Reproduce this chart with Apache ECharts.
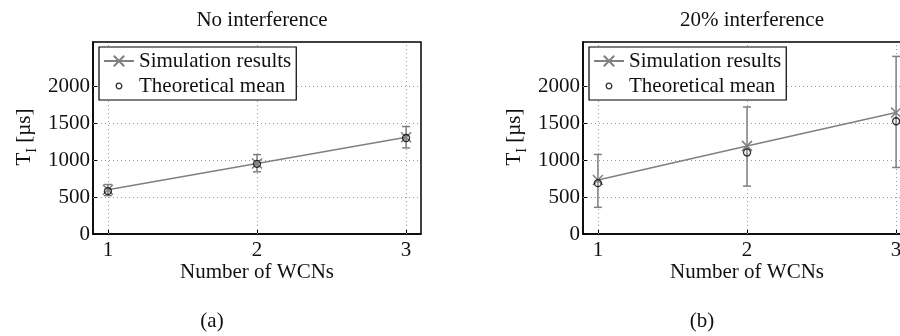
<!DOCTYPE html>
<html>
<head>
<meta charset="utf-8">
<script src="https://cdn.jsdelivr.net/npm/echarts@6/dist/echarts.min.js"></script>
<style>
  html, body { margin: 0; padding: 0; background: #fff; }
  #main { width: 900px; height: 336px; }
</style>
</head>
<body>
<div id="main"></div>
<script>
// data
const wcns = [1, 2, 3];
const yTicks = [0, 500, 1000, 1500, 2000];

const simA = [600, 955, 1310];
const lowA = [520, 842, 1166];
const highA = [670, 1075, 1455];
const theoryA = [580, 950, 1300];

const simB = [730, 1193, 1644];
const lowB = [361, 649, 901];
const highB = [1077, 1720, 2405];
const theoryB = [689, 1104, 1527];

const FONT = "Liberation Serif";
const FS = 21;
const GRAY = "#808080";
const CROSS = "path://M0,0L10,10M10,0L0,10";
const SMALL_CIRCLE = "path://M0,0M30,0M30,14M0,14M12,7a3,3 0 1,0 6,0a3,3 0 1,0 -6,0";

let dom = document.getElementById("main");
let myChart = echarts.init(dom, null, { renderer: "canvas" });

function pairs(xs, ys) {
    return xs.map((x, i) => [x, ys[i]]);
}

function errBar(params, api) {
    let x = api.value(0);
    let p1 = api.coord([x, api.value(1)]);
    let p2 = api.coord([x, api.value(2)]);
    let w = 4;
    let style = { stroke: GRAY, lineWidth: 1.5 };
    return {
        type: "group",
        children: [
            { type: "line", shape: { x1: p1[0], y1: p1[1], x2: p2[0], y2: p2[1] }, style: style },
            { type: "line", shape: { x1: p1[0] - w, y1: p1[1], x2: p1[0] + w, y2: p1[1] }, style: style },
            { type: "line", shape: { x1: p2[0] - w, y1: p2[1], x2: p2[0] + w, y2: p2[1] }, style: style },
        ],
    };
}

function xAxisFor(idx) {
    return {
        type: "value",
        gridIndex: idx,
        min: 0.9,
        max: 3.1,
        name: "Number of WCNs",
        nameLocation: "middle",
        nameGap: 28,
        nameMoveOverlap: false,
        nameTextStyle: { fontFamily: FONT, fontSize: FS, color: "#111" },
        axisLine: { show: true, onZero: false, lineStyle: { color: "#000", width: 1.5 } },
        axisTick: { show: true, inside: true, length: 4, customValues: wcns, lineStyle: { color: "#000" } },
        axisLabel: { customValues: wcns, margin: 6, fontFamily: FONT, fontSize: FS, color: "#111" },
        splitLine: { show: false },
    };
}

function yAxisFor(idx) {
    return {
        type: "value",
        gridIndex: idx,
        min: 0,
        max: 2600,
        axisLine: { show: true, lineStyle: { color: "#000", width: 1.5 } },
        axisTick: { show: true, inside: true, length: 4, customValues: yTicks, lineStyle: { color: "#000" } },
        axisLabel: {
            customValues: yTicks,
            margin: 3,
            fontFamily: FONT,
            fontSize: FS,
            color: "#111",
            formatter: (v) => String(v),
        },
        splitLine: { show: false },
    };
}

function gridLines() {
    return {
        silent: true,
        symbol: "none",
        z: 1,
        label: { show: false },
        lineStyle: { color: "#9a9a9a", type: [1, 3], width: 1 },
        data: yTicks.slice(1).map((v) => ({ yAxis: v }))
            .concat(wcns.map((v) => ({ xAxis: v }))),
    };
}

function seriesFor(idx, sim, low, high, theory) {
    return [
        {
            name: "err" + idx,
            type: "custom",
            xAxisIndex: idx,
            yAxisIndex: idx,
            renderItem: errBar,
            data: wcns.map((x, i) => [x, low[i], high[i]]),
            z: 2,
            markLine: gridLines(),
        },
        {
            name: "Simulation results",
            type: "line",
            xAxisIndex: idx,
            yAxisIndex: idx,
            data: pairs(wcns, sim),
            symbol: CROSS,
            symbolSize: 10,
            lineStyle: { color: GRAY, width: 1.5 },
            itemStyle: { color: GRAY, borderColor: GRAY, borderWidth: 1.5 },
            z: 3,
        },
        {
            name: "Theoretical mean",
            type: "scatter",
            xAxisIndex: idx,
            yAxisIndex: idx,
            data: pairs(wcns, theory),
            symbol: "circle",
            symbolSize: 7,
            itemStyle: { color: "rgba(0,0,0,0)", borderColor: "#000", borderWidth: 1.3 },
            z: 4,
        },
    ];
}

function legendFor(left) {
    return {
        left: left,
        top: 47,
        orient: "vertical",
        backgroundColor: "#fff",
        borderColor: "#000",
        borderWidth: 1.2,
        borderRadius: 0,
        padding: [3, 5, 3, 4],
        itemGap: 3,
        itemWidth: 30,
        itemHeight: 13,
        selectedMode: false,
        textStyle: { fontFamily: FONT, fontSize: FS, color: "#111", lineHeight: 22 },
        data: [
            { name: "Simulation results" },
            { name: "Theoretical mean", icon: SMALL_CIRCLE, itemStyle: { color: "rgba(0,0,0,0)", borderColor: "#000", borderWidth: 1.3 } },
        ],
        z: 10,
    };
}

function yName(x, y) {
    return {
        type: "text",
        x: x,
        y: y,
        rotation: Math.PI / 2,
        style: {
            text: "{a|T}{b|I}{a| [µs]}",
            align: "center",
            verticalAlign: "middle",
            rich: {
                a: { fontFamily: FONT, fontSize: FS, fill: "#111", lineHeight: 30, verticalAlign: "middle" },
                b: { fontFamily: FONT, fontSize: 14, fill: "#111", lineHeight: 30, verticalAlign: "bottom" },
            },
        },
    };
}

let option = {
    animation: false,
    backgroundColor: "#fff",
    title: [
        { text: "No interference", left: 257, top: 5, textAlign: "center", textStyle: { fontFamily: FONT, fontSize: FS, fontWeight: "normal", color: "#111" } },
        { text: "20% interference", left: 747, top: 5, textAlign: "center", textStyle: { fontFamily: FONT, fontSize: FS, fontWeight: "normal", color: "#111" } },
    ],
    grid: [
        { left: 93, top: 42, width: 328, height: 192, outerBoundsMode: "none", show: true, borderColor: "#000", borderWidth: 1.5, backgroundColor: "transparent" },
        { left: 583, top: 42, width: 328, height: 192, outerBoundsMode: "none", show: true, borderColor: "#000", borderWidth: 1.5, backgroundColor: "transparent" },
    ],
    legend: [legendFor(99), legendFor(589)],
    xAxis: [xAxisFor(0), xAxisFor(1)],
    yAxis: [yAxisFor(0), yAxisFor(1)],
    series: seriesFor(0, simA, lowA, highA, theoryA).concat(seriesFor(1, simB, lowB, highB, theoryB)),
    graphic: [
        yName(24, 137),
        yName(514, 137),
        { type: "text", x: 212, y: 321, style: { text: "(a)", align: "center", verticalAlign: "middle", fontFamily: FONT, fontSize: FS, fill: "#111" } },
        { type: "text", x: 702, y: 321, style: { text: "(b)", align: "center", verticalAlign: "middle", fontFamily: FONT, fontSize: FS, fill: "#111" } },
    ],
};

if (option && typeof option === "object") {
    myChart.setOption(option);
}

window.addEventListener("resize", myChart.resize);
</script>
</body>
</html>
